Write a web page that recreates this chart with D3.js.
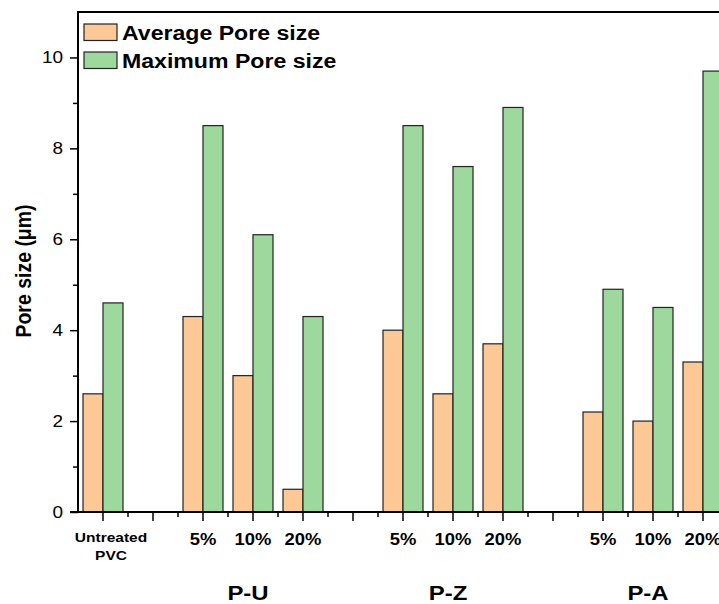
<!DOCTYPE html>
<html>
<head>
<meta charset="utf-8">
<script src="https://cdn.jsdelivr.net/npm/d3@7"></script>
<style>
html,body{margin:0;padding:0;background:#fff;overflow:hidden;}
text{font-family:"Liberation Sans",Arial,sans-serif;}
</style>
</head>
<body>
<svg id="chart" width="719" height="604"></svg>
<script>
// Slots along the x axis (gap slots are empty spacers)
const slots = ["Untreated PVC", "gap1", "P-U 5%", "P-U 10%", "P-U 20%", "gap2", "P-Z 5%", "P-Z 10%", "P-Z 20%", "gap3", "P-A 5%", "P-A 10%", "P-A 20%"];
const categories = ["Untreated PVC", "P-U 5%", "P-U 10%", "P-U 20%", "P-Z 5%", "P-Z 10%", "P-Z 20%", "P-A 5%", "P-A 10%", "P-A 20%"];
const tickLabels = ["Untreated\nPVC", "5%", "10%", "20%", "5%", "10%", "20%", "5%", "10%", "20%"];
const averagePore = [2.6, 4.3, 3.0, 0.5, 4.0, 2.6, 3.7, 2.2, 2.0, 3.3];
const maximumPore = [4.6, 8.5, 6.1, 4.3, 8.5, 7.6, 8.9, 4.9, 4.5, 9.7];
const groups = [{name: "P-U", mid: "P-U 10%"}, {name: "P-Z", mid: "P-Z 10%"}, {name: "P-A", mid: "P-A 10%"}];
const seriesNames = ["Average Pore size", "Maximum Pore size"];
const seriesColors = ["#fcc896", "#9dd89d"];
const yTicks = [0, 2, 4, 6, 8, 10];
const yMinor = [1, 3, 5, 7, 9];

const series = [
  {name: seriesNames[0], values: averagePore, color: seriesColors[0]},
  {name: seriesNames[1], values: maximumPore, color: seriesColors[1]}
];

const svg = d3.select("#chart");
const margin = {left: 78, top: 12, bottom: 512};
const slotW = 50;
const right = margin.left + slotW * slots.length;
const SX = 1.15; // horizontal stretch of the original's lettering

const x = d3.scaleBand().domain(slots).range([margin.left, right]).paddingInner(0).paddingOuter(0);
const y = d3.scaleLinear().domain([0, 11]).range([margin.bottom, margin.top]);
const barW = 20;
const cx = d => x(d) + x.bandwidth() / 2;

function stretchedText(parent, tx, ty, str, opts) {
  const t = parent.append("text")
    .attr("transform", `translate(${tx},${ty}) scale(${opts.sx || SX},1)`)
    .attr("x", 0).attr("y", 0)
    .attr("text-anchor", opts.anchor || "middle")
    .attr("font-weight", opts.bold ? "bold" : "normal")
    .attr("font-size", opts.size)
    .attr("fill", "#000");
  const lines = str.split("\n");
  if (lines.length === 1) t.text(str);
  else lines.forEach((l, j) => t.append("tspan").attr("x", 0).attr("dy", j === 0 ? 0 : opts.lh).text(l));
  return t;
}

// bars
series.forEach((s, si) => {
  svg.append("g").selectAll("rect").data(categories).join("rect")
    .attr("x", d => cx(d) + (si === 0 ? -barW : 0))
    .attr("y", (d, i) => y(s.values[i]))
    .attr("width", barW)
    .attr("height", (d, i) => y(0) - y(s.values[i]))
    .attr("fill", s.color)
    .attr("stroke", "#222")
    .attr("stroke-width", 1.2);
});

// frame lines
svg.append("line").attr("x1", margin.left).attr("x2", 719).attr("y1", margin.top).attr("y2", margin.top)
  .attr("stroke", "#000").attr("stroke-width", 2);
svg.append("line").attr("x1", margin.left).attr("x2", margin.left).attr("y1", margin.top - 1).attr("y2", margin.bottom + 1)
  .attr("stroke", "#000").attr("stroke-width", 2);

// y axis ticks
const gy = svg.append("g").attr("transform", `translate(${margin.left},0)`)
  .call(d3.axisLeft(y).tickValues(yTicks).tickSize(8).tickFormat(""));
gy.select(".domain").remove();
gy.selectAll(".tick line").attr("stroke-width", 1.5);
const gyMinor = svg.append("g").attr("transform", `translate(${margin.left},0)`)
  .call(d3.axisLeft(y).tickValues(yMinor).tickSize(5).tickFormat(""));
gyMinor.select(".domain").remove();
gyMinor.selectAll(".tick line").attr("stroke-width", 1.5);
yTicks.forEach(v => stretchedText(svg, margin.left - 15, y(v) + 6, String(v), {size: 16.5, anchor: "end"}));

// x axis baseline
svg.append("line").attr("x1", margin.left - 8).attr("x2", 719).attr("y1", margin.bottom).attr("y2", margin.bottom)
  .attr("stroke", "#000").attr("stroke-width", 2);

// x major ticks at slot centers, minor at slot boundaries
const gx = svg.append("g");
gx.selectAll("line.major").data(slots).join("line").attr("class", "major")
  .attr("x1", cx).attr("x2", cx)
  .attr("y1", margin.bottom).attr("y2", margin.bottom + 9)
  .attr("stroke", "#000").attr("stroke-width", 1.5);
gx.selectAll("line.minor").data(slots).join("line").attr("class", "minor")
  .attr("x1", d => x(d) + x.bandwidth()).attr("x2", d => x(d) + x.bandwidth())
  .attr("y1", margin.bottom).attr("y2", margin.bottom + 5)
  .attr("stroke", "#000").attr("stroke-width", 1.5);

// x tick labels
categories.forEach((c, i) => {
  const multi = tickLabels[i].includes("\n");
  stretchedText(svg, cx(c) + (multi ? 8 : 0), multi ? 542 : 545, tickLabels[i],
    {size: multi ? 13.5 : 16, bold: true, lh: 18});
});

// group labels
groups.forEach(g => stretchedText(svg, cx(g.mid) - 5, 600, g.name, {size: 21, bold: true, sx: 1.14}));

// y axis title
svg.append("text")
  .attr("transform", `translate(31,${(margin.top + margin.bottom) / 2 + 9}) rotate(-90) scale(1,1.1)`)
  .attr("text-anchor", "middle")
  .attr("font-weight", "bold")
  .attr("font-size", 19.5)
  .attr("fill", "#000")
  .text("Pore size (μm)");

// legend
const lg = svg.append("g").selectAll("g").data(series).join("g")
  .attr("transform", (d, i) => `translate(84,${24 + i * 28})`);
lg.append("rect").attr("width", 33).attr("height", 16.5).attr("fill", d => d.color)
  .attr("stroke", "#222").attr("stroke-width", 1.2);
lg.each(function(d) {
  stretchedText(d3.select(this), 38, 16, d.name, {size: 21, bold: true, anchor: "start", sx: 1.1});
});
</script>
</body>
</html>
